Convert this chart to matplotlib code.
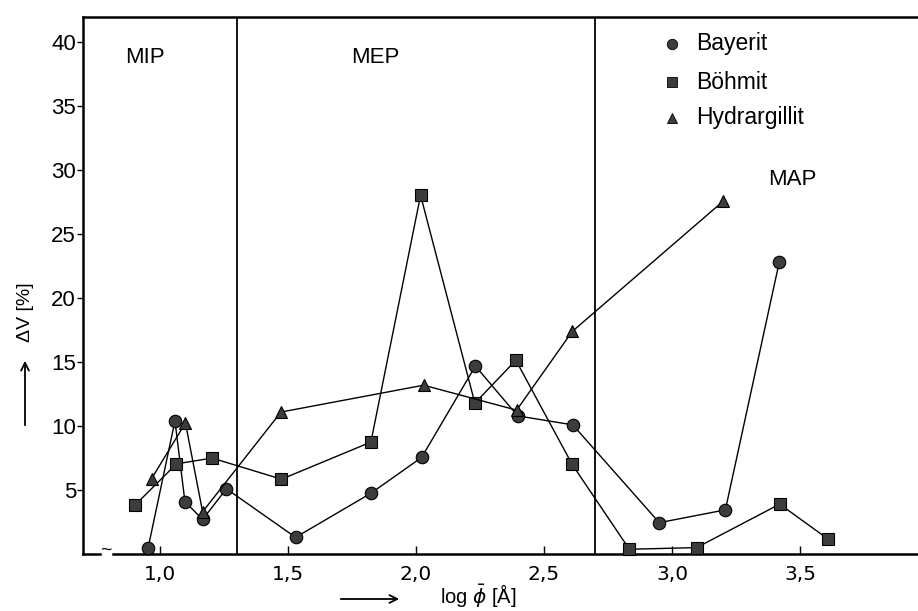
import matplotlib
matplotlib.use("Agg")
import matplotlib.pyplot as plt

plt.rcParams['font.family'] = ['Liberation Sans', 'DejaVu Sans']

# Bayerit (circles)
bay_x = [0.954, 1.059, 1.098, 1.167, 1.26, 1.53, 1.824, 2.022, 2.232, 2.397, 2.612, 2.95, 3.208, 3.418]
bay_y = [0.45, 10.4, 4.1, 2.7, 5.1, 1.3, 4.75, 7.55, 14.7, 10.8, 10.1, 2.45, 3.45, 22.8]

# Böhmit (squares)
boe_x = [0.902, 1.065, 1.204, 1.475, 1.824, 2.018, 2.23, 2.39, 2.61, 2.833, 3.096, 3.42, 3.61]
boe_y = [3.8, 7.05, 7.5, 5.85, 8.75, 28.05, 11.8, 15.15, 7.0, 0.37, 0.5, 3.9, 1.15]

# Hydrargillit (triangles)
hyd_x = [0.968, 1.10, 1.167, 1.473, 2.03, 2.393, 2.61, 3.20]
hyd_y = [5.9, 10.25, 3.3, 11.1, 13.2, 11.25, 17.4, 27.6]

xticks = [1.0, 1.5, 2.0, 2.5, 3.0, 3.5]
xticklabels = ['1,0', '1,5', '2,0', '2,5', '3,0', '3,5']
yticks = [5, 10, 15, 20, 25, 30, 35, 40]
region_bounds = [1.3, 2.7]
region_names = ['MIP', 'MEP', 'MAP']
legend_names = ['Bayerit', 'Böhmit', 'Hydrargillit']

fig = plt.figure(figsize=(9.18, 6.11), dpi=100)
ax = fig.add_axes([0.0904, 0.0933, 0.9096, 0.879])
ax.set_xlim(0.70, 3.96)
ax.set_ylim(0, 42)

fill = '#3c3c3c'
style = dict(color='black', lw=1.0, markerfacecolor=fill, markeredgecolor='black',
             markeredgewidth=0.8, clip_on=False, zorder=3)
ax.plot(bay_x, bay_y, marker='o', markersize=9, **style)
ax.plot(boe_x, boe_y, marker='s', markersize=8.5, **style)
ax.plot(hyd_x, hyd_y, marker='^', markersize=8.5, **style)

for b in region_bounds:
    ax.axvline(b, color='black', lw=1.3, zorder=2)

ax.text(0.94, 38.8, region_names[0], fontsize=16, ha='center', va='center')
ax.text(1.84, 38.8, region_names[1], fontsize=16, ha='center', va='center')
ax.text(3.47, 29.3, region_names[2], fontsize=16, ha='center', va='center')

# legend drawn by hand like in the original
leg_y = [39.9, 36.9, 34.1]
leg_m = ['o', 's', '^']
for yy, m, name in zip(leg_y, leg_m, legend_names):
    ax.plot([3.0], [yy], marker=m, markersize=7.5, markerfacecolor=fill,
            markeredgecolor='black', markeredgewidth=0.6, linestyle='none')
    ax.text(3.095, yy, name, fontsize=16.5, va='center', ha='left')

# axes / spines
for s in ['left', 'top', 'bottom']:
    ax.spines[s].set_linewidth(1.8)
ax.spines['right'].set_visible(False)
ax.spines['bottom'].set_bounds(0.816, 3.96)
ax.plot([0.70, 0.765], [0, 0], color='black', lw=1.8, clip_on=False)
ax.text(0.79, 0.3, '~', fontsize=14, ha='center', va='center')

ax.set_xticks(xticks)
ax.set_xticklabels(xticklabels, family=['Liberation Sans Narrow', 'DejaVu Sans'], fontsize=14.5)
ax.set_yticks(yticks)
ax.set_yticklabels([str(v) for v in yticks], fontsize=16)
ax.tick_params(axis='x', direction='in', length=6, width=1.0, pad=8)
ax.tick_params(axis='y', direction='out', length=4, width=1.0, pad=1)

# axis labels with arrows
fig.text(25 / 918, 1 - 312 / 611, 'ΔV [%]', rotation=90, fontsize=14, ha='center', va='center')
fig.add_artist(matplotlib.patches.FancyArrowPatch((25 / 918, 1 - 428 / 611), (25 / 918, 1 - 358 / 611),
               transform=fig.transFigure, arrowstyle='->', mutation_scale=14, lw=1.3, color='black'))
fig.text(440 / 918, 1 - 604 / 611, r'log $\bar{\phi}$ [Å]', fontsize=14.5, ha='left', va='baseline')
fig.add_artist(matplotlib.patches.FancyArrowPatch((338 / 918, 1 - 599 / 611), (402 / 918, 1 - 599 / 611),
               transform=fig.transFigure, arrowstyle='->', mutation_scale=14, lw=1.3, color='black'))

fig.savefig('out.png', dpi=100)
